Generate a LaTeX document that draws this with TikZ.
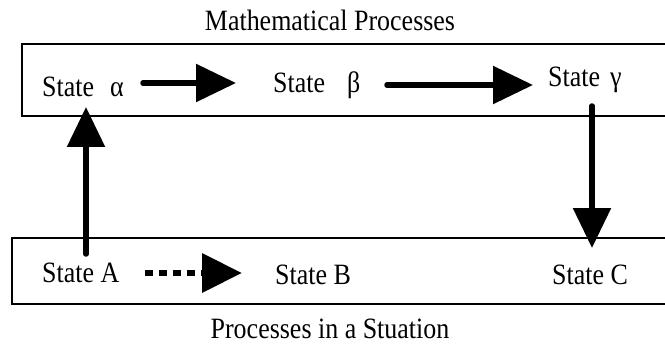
\documentclass[tikz,border=0pt]{standalone}
\usepackage{fontspec}
\setmainfont{Liberation Serif}[FakeStretch=0.88]
\usetikzlibrary{arrows.meta}
\begin{document}
\begin{tikzpicture}[x=1pt,y=-1pt,
  lbl/.style={anchor=base west, inner sep=0pt, font=\fontsize{29.5}{32}\selectfont},
  ttl/.style={anchor=base, inner sep=0pt, font=\fontsize{29.5}{32}\selectfont},
  panel/.style={draw, line width=2pt, anchor=north west, inner sep=0pt},
  flow/.style={line width=5.5pt, line cap=round, -{Triangle[length=40pt,width=37pt]}},
  dotflow/.style={line width=6.5pt, dash pattern=on 8pt off 6pt, -{Triangle[length=40pt,width=38pt]}}]
\useasboundingbox (0,0) rectangle (665,345);
\clip (0,0) rectangle (665,345);
% panels
\node[panel, minimum width=680pt, minimum height=72pt] (top) at (21,43) {};
\node[panel, minimum width=680pt, minimum height=66pt] (bot) at (11,237) {};
% titles
\node[ttl] (ttop) at (330,31) {Mathematical Processes};
\node[ttl] (tbot) at (330,338) {Processes in a Stuation};
% state labels
\node[lbl] (sa) at (42,97) {State\hspace{16pt}α};
\node[lbl] (sb) at (273,93) {State\hspace{22pt}β};
\node[lbl] (sg) at (548,87) {State\hspace{10pt}γ};
\node[lbl] (SA) at (42,282) {State A};
\node[lbl] (SB) at (275,284) {State B};
\node[lbl] (SC) at (552,284) {State C};
% arrow ends
\coordinate (a1s) at (143,83);
\coordinate (a1e) at (236,83);
\coordinate (a2s) at (387,85);
\coordinate (a2e) at (533,85);
\coordinate (a3s) at (145,273);
\coordinate (a3e) at (242,273);
\coordinate (upS) at (86,254);
\coordinate (upE) at (86,107);
\coordinate (dnS) at (592,106);
\coordinate (dnE) at (592,248);
\draw[flow] (a1s) -- (a1e);
\draw[flow] (a2s) -- (a2e);
\draw[dotflow] (a3s) -- (a3e);
\draw[flow] (upS) -- (upE);
\draw[flow] (dnS) -- (dnE);
\end{tikzpicture}
\end{document}
